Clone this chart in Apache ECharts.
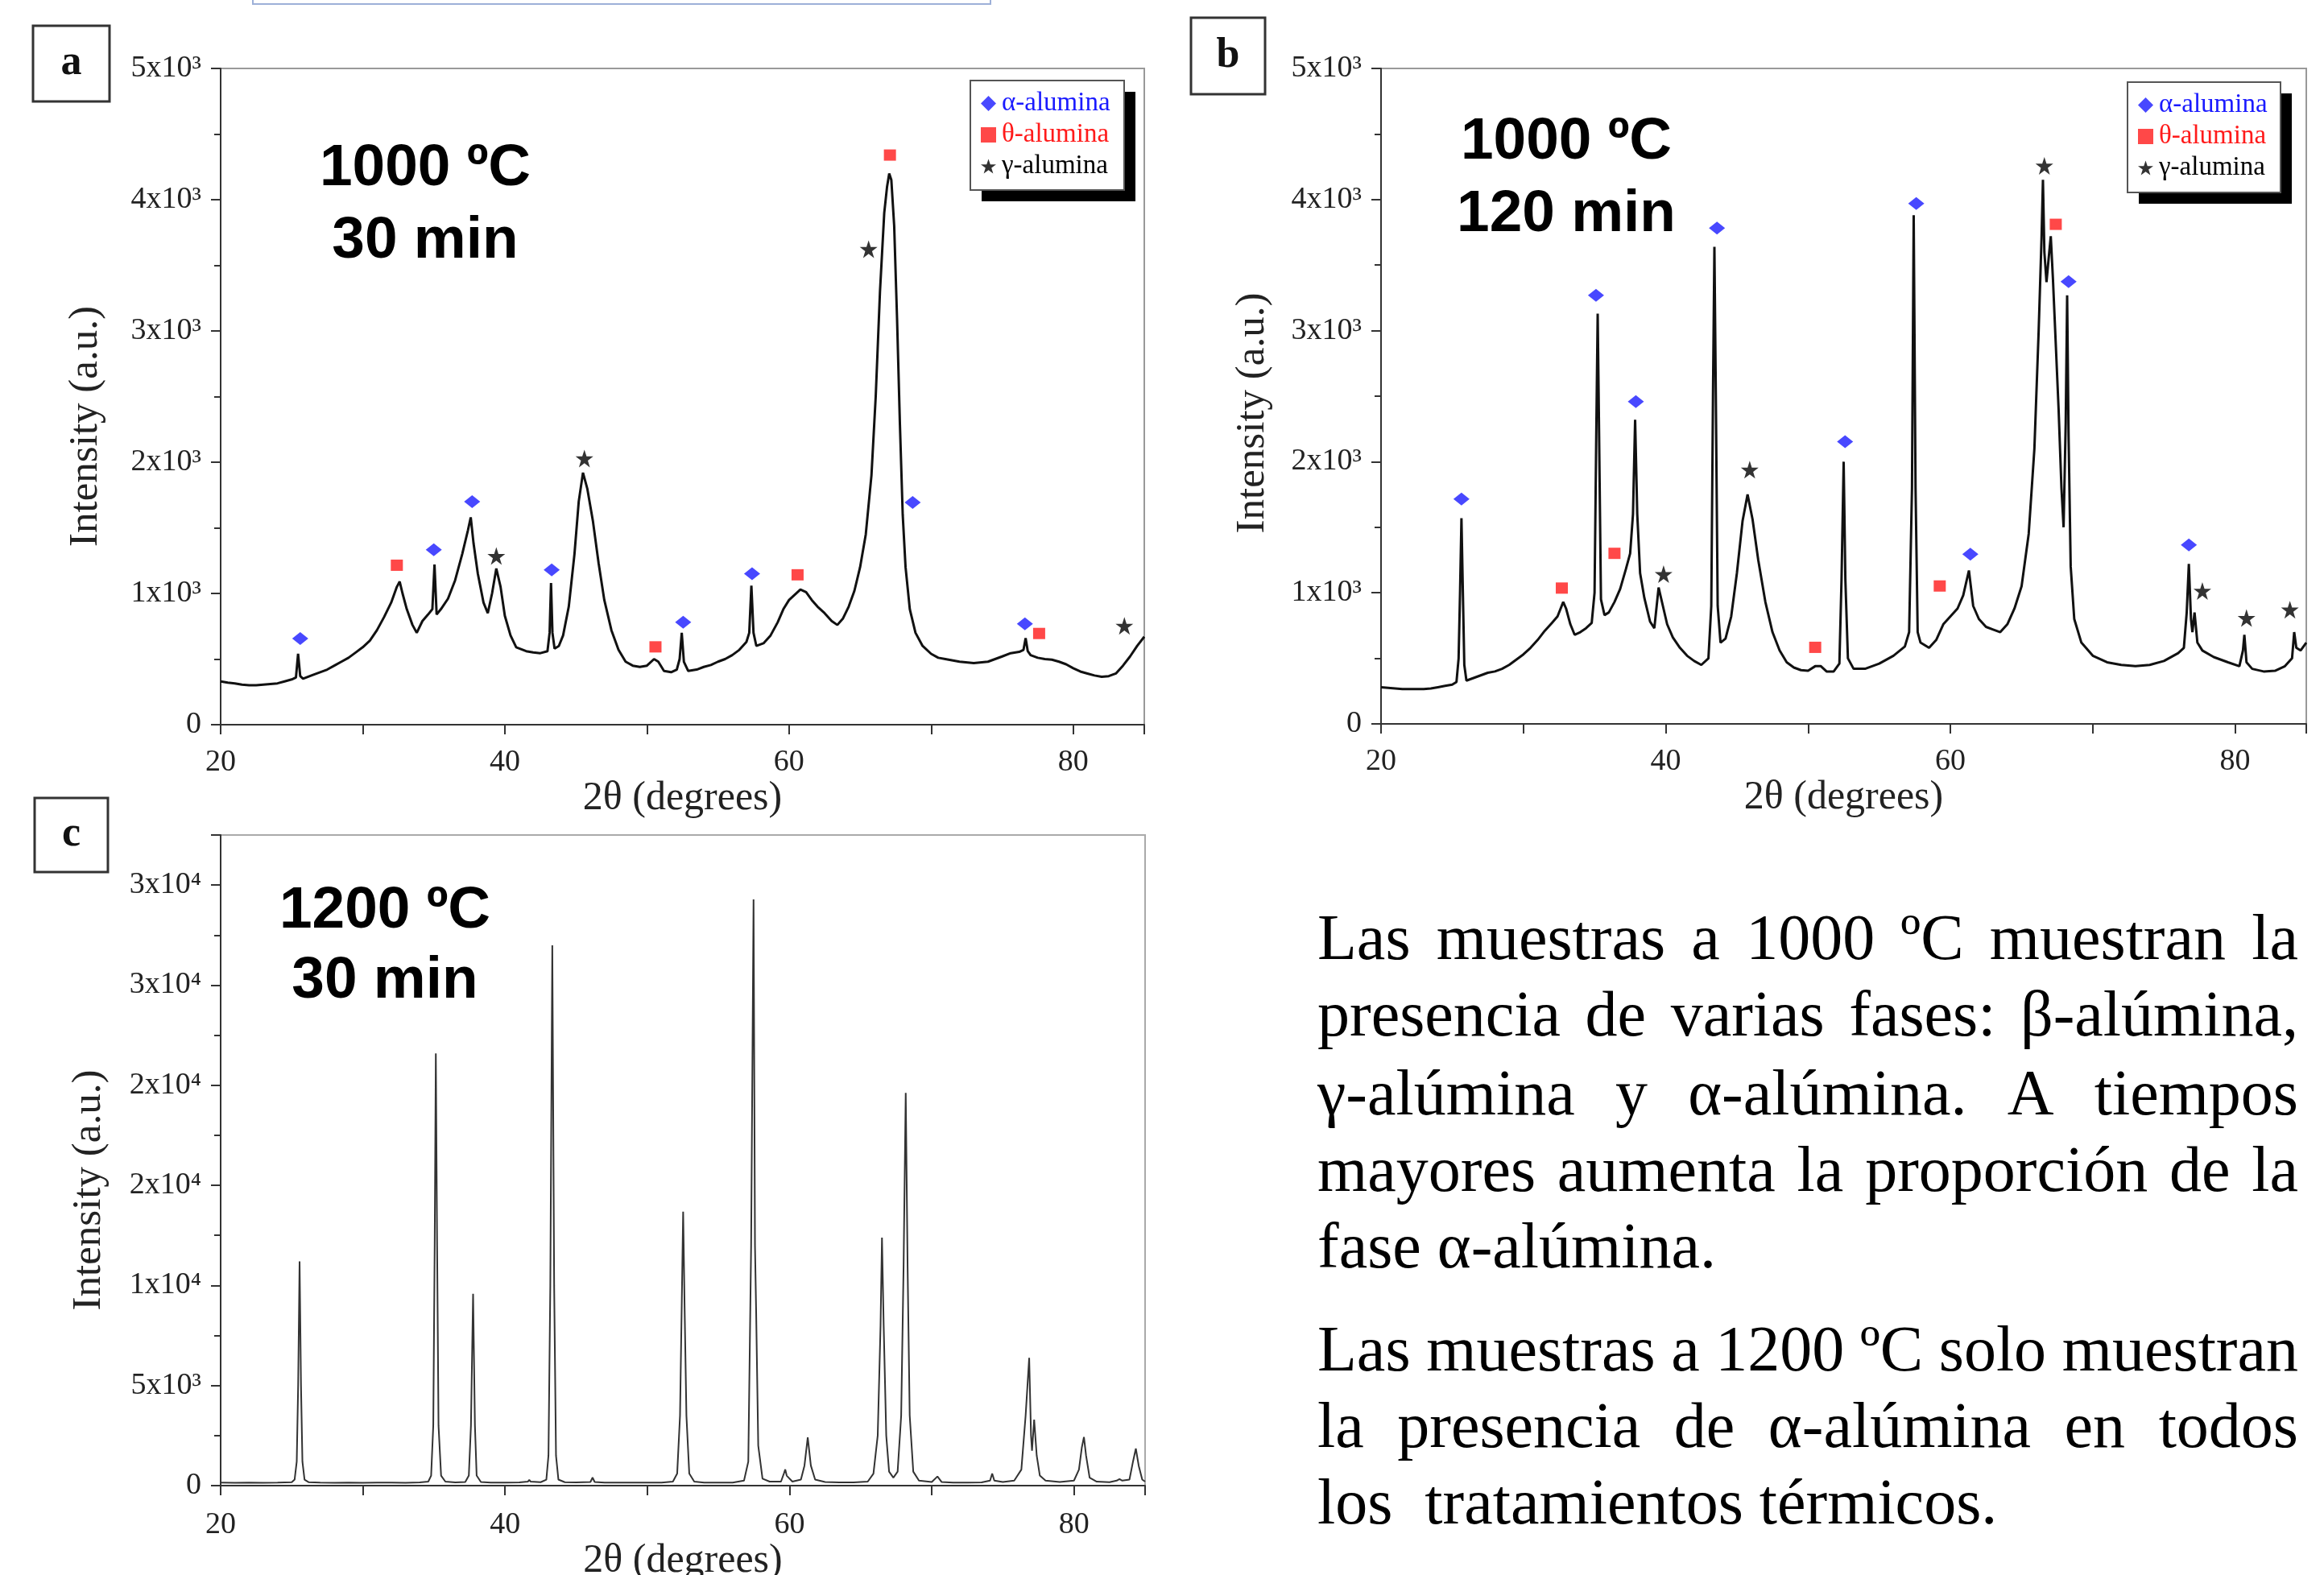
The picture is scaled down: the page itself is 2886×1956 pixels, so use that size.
<!DOCTYPE html>
<html><head><meta charset="utf-8">
<script src="https://cdn.jsdelivr.net/npm/echarts@6/dist/echarts.min.js"></script>
<style>html,body{margin:0;padding:0;background:#fff}#c{width:2886px;height:1956px}</style>
</head><body><div id="c"></div>
<script>
// ---------- tick labels ----------
const xTickLabels = {20: '20', 40: '40', 60: '60', 80: '80'};
const yTickLabels1000 = ['0', '1x10³', '2x10³', '3x10³', '4x10³', '5x10³'];
const yTickLabels1200 = ['0', '5x10³', '1x10⁴', '2x10⁴', '2x10⁴', '3x10⁴', '3x10⁴'];

// ---------- panel a: 1000 ºC, 30 min ----------
const pattern1000_30 = [
[20.0,330],[20.5,320],[21.0,315],[21.5,305],[22.0,300],[22.5,300],[23.0,305],[23.5,310],[24.0,315],[24.5,330],[25.0,345],[25.3,360],[25.45,540],[25.6,370],[25.8,350],[26.5,380],[27.0,400],[27.5,420],[28.0,450],[28.5,480],[29.0,510],[29.5,550],[30.0,590],[30.5,640],[31.0,720],[31.5,820],[32.0,930],[32.4,1050],[32.6,1090],[32.8,1000],[33.1,880],[33.5,760],[33.8,700],[34.2,790],[34.6,840],[34.9,880],[35.05,1220],[35.2,840],[35.5,880],[36.0,960],[36.5,1100],[37.0,1300],[37.4,1480],[37.6,1580],[37.8,1380],[38.1,1150],[38.5,930],[38.8,850],[39.1,1000],[39.4,1190],[39.7,1050],[40.0,830],[40.4,680],[40.8,590],[41.5,560],[42.0,550],[42.5,545],[43.0,560],[43.15,700],[43.25,1080],[43.35,700],[43.5,580],[43.8,600],[44.1,680],[44.5,900],[44.9,1300],[45.2,1700],[45.5,1920],[45.8,1800],[46.2,1550],[46.6,1230],[47.0,950],[47.5,720],[48.0,570],[48.5,480],[49.0,450],[49.5,440],[50.0,450],[50.5,500],[50.8,480],[51.2,410],[51.7,400],[52.1,420],[52.3,500],[52.45,700],[52.6,480],[52.9,410],[53.5,420],[54.0,440],[54.5,455],[55.0,480],[55.5,500],[56.0,530],[56.5,570],[57.0,630],[57.2,700],[57.35,1060],[57.5,700],[57.7,600],[58.2,620],[58.7,680],[59.2,780],[59.6,880],[60.0,950],[60.4,990],[60.8,1030],[61.2,1010],[61.6,950],[62.0,900],[62.5,850],[63.0,790],[63.4,760],[63.8,810],[64.2,900],[64.6,1020],[65.0,1200],[65.4,1450],[65.8,1900],[66.1,2500],[66.4,3300],[66.7,3900],[66.9,4100],[67.05,4200],[67.2,4150],[67.4,3800],[67.6,3100],[67.8,2300],[68.0,1600],[68.2,1200],[68.5,880],[68.9,700],[69.4,600],[70.0,540],[70.5,510],[71.0,500],[72.0,480],[73.0,470],[74.0,480],[75.0,520],[75.6,545],[76.2,555],[76.5,570],[76.65,660],[76.8,560],[77.0,530],[77.5,510],[78.0,500],[78.5,495],[79.0,480],[79.5,460],[80.0,430],[80.5,405],[81.0,390],[81.5,375],[82.0,365],[82.5,370],[83.0,390],[83.5,450],[84.0,520],[84.5,600],[85.0,670]
];
const alpha1000_30 = [[25.6,657],[35.0,1333],[37.7,1700],[43.3,1180],[52.55,781],[57.4,1151],[68.7,1693],[76.6,769]];
const theta1000_30 = [[32.4,1215],[50.6,593],[60.6,1142],[67.1,4340],[77.6,695]];
const gamma1000_30 = [[39.4,1285],[45.6,2028],[65.6,3623],[83.6,753]];

// ---------- panel b: 1000 ºC, 120 min ----------
const pattern1000_120 = [
[20.0,280],[20.5,275],[21.0,270],[21.5,265],[22.0,265],[22.5,265],[23.0,265],[23.5,270],[24.0,280],[24.5,290],[25.0,300],[25.3,320],[25.45,500],[25.55,1000],[25.65,1570],[25.75,1000],[25.85,450],[26.0,330],[26.5,350],[27.0,370],[27.5,390],[28.0,400],[28.5,420],[29.0,450],[29.5,490],[30.0,530],[30.5,580],[31.0,640],[31.5,710],[32.0,770],[32.4,820],[32.8,930],[33.0,880],[33.3,760],[33.6,680],[34.0,700],[34.4,730],[34.8,770],[35.0,1000],[35.12,2200],[35.22,3130],[35.32,2200],[35.45,950],[35.7,830],[36.0,850],[36.4,930],[36.8,1030],[37.2,1180],[37.5,1300],[37.7,1600],[37.85,2320],[38.0,1600],[38.2,1150],[38.5,960],[38.9,780],[39.2,730],[39.5,1040],[39.8,900],[40.1,760],[40.5,660],[41.0,580],[41.5,520],[42.0,480],[42.5,450],[43.0,500],[43.2,900],[43.32,2500],[43.42,3640],[43.52,2500],[43.65,900],[43.85,620],[44.2,650],[44.6,820],[45.0,1150],[45.4,1550],[45.75,1750],[46.1,1560],[46.5,1250],[47.0,930],[47.5,700],[48.0,560],[48.5,470],[49.0,430],[49.5,410],[50.0,405],[50.5,440],[50.9,440],[51.3,400],[51.8,400],[52.2,460],[52.35,1100],[52.5,2000],[52.62,1100],[52.8,500],[53.2,420],[54.0,420],[55.0,460],[56.0,520],[56.8,590],[57.1,700],[57.3,1800],[57.42,3880],[57.55,1800],[57.7,700],[57.9,620],[58.5,580],[59.0,640],[59.5,760],[60.0,820],[60.5,880],[60.9,980],[61.3,1170],[61.6,900],[62.0,800],[62.5,740],[63.0,720],[63.5,700],[64.0,760],[64.5,880],[65.0,1050],[65.5,1450],[65.9,2100],[66.2,3000],[66.4,3700],[66.5,4150],[66.6,3600],[66.75,3370],[66.9,3550],[67.05,3720],[67.2,3400],[67.4,2900],[67.6,2400],[67.8,1800],[67.95,1500],[68.1,2300],[68.2,3270],[68.3,2200],[68.45,1200],[68.7,800],[69.2,620],[70.0,520],[71.0,470],[72.0,450],[73.0,440],[74.0,450],[75.0,480],[76.0,540],[76.4,580],[76.6,850],[76.75,1220],[76.9,800],[77.0,700],[77.15,850],[77.35,620],[77.7,560],[78.5,510],[79.5,470],[80.3,440],[80.55,560],[80.65,680],[80.8,470],[81.2,420],[82.0,400],[82.8,405],[83.5,440],[84.0,500],[84.15,700],[84.3,580],[84.6,560],[85.0,620]
];
const alpha1000_120 = [[25.65,1716],[35.1,3269],[37.9,2459],[43.6,3782],[52.6,2153],[57.6,3970],[61.4,1295],[68.3,3374],[76.75,1365]];
const theta1000_120 = [[32.7,1036],[36.4,1301],[50.5,584],[59.25,1052],[67.4,3811]];
const gamma1000_120 = [[39.85,1142],[45.9,1939],[66.6,4257],[77.7,1014],[80.8,807],[83.85,871]];

// ---------- panel c: 1200 ºC, 30 min ----------
const pattern1200_30 = [
[20,150],[21,140],[22,150],[23,145],[24,150],[25.0,170],[25.2,300],[25.35,1200],[25.45,5000],[25.55,11200],[25.65,5000],[25.75,1200],[25.9,300],[26.2,170],[27,150],[28,140],[29,150],[30,145],[31,150],[32,150],[33,145],[34,160],[34.6,200],[34.8,500],[34.95,3000],[35.05,12000],[35.13,21590],[35.22,12000],[35.32,3000],[35.5,500],[35.8,200],[36.5,160],[37.2,180],[37.45,500],[37.6,3000],[37.75,9580],[37.88,3000],[38.0,500],[38.3,180],[39,150],[40,150],[41,160],[41.6,200],[41.7,290],[41.8,200],[42.5,170],[42.9,300],[43.05,1500],[43.18,10000],[43.32,26990],[43.45,10000],[43.58,1500],[43.75,300],[44.2,170],[45,160],[46.0,180],[46.15,400],[46.3,180],[47,150],[48,150],[49,150],[50,150],[51,150],[51.8,200],[52.1,600],[52.3,3500],[52.42,9000],[52.52,13690],[52.62,9000],[52.75,3500],[52.95,600],[53.3,200],[54,150],[55,150],[56,150],[56.8,250],[57.1,1200],[57.3,12000],[57.47,29280],[57.57,12000],[57.65,8800],[57.8,2000],[58.1,350],[58.6,200],[59.4,200],[59.6,600],[59.7,810],[59.8,500],[60.2,200],[60.8,300],[61.05,1000],[61.28,2410],[61.5,1000],[61.8,300],[62.5,180],[63.5,160],[64.5,160],[65.5,200],[65.9,600],[66.2,2500],[66.4,8000],[66.5,12385],[66.62,8000],[66.8,2500],[67.0,700],[67.3,400],[67.6,700],[67.85,3500],[68.02,11000],[68.17,19620],[68.3,11000],[68.45,3500],[68.7,700],[69.1,250],[70.0,180],[70.4,457],[70.7,180],[71.5,150],[72.5,150],[73.5,160],[74.1,250],[74.25,600],[74.4,250],[75.0,180],[75.8,250],[76.3,800],[76.6,3500],[76.85,6380],[76.98,2500],[77.05,1745],[77.2,3300],[77.38,1500],[77.6,500],[78.0,250],[79,180],[80.0,250],[80.35,800],[80.55,1900],[80.7,2430],[80.85,1500],[81.1,400],[81.6,200],[82.5,170],[83.0,250],[83.2,330],[83.4,250],[83.9,300],[84.15,1200],[84.35,1850],[84.55,1000],[84.8,300],[85.0,200]
];

// ---------- texts ----------
const phaseNames = ['α-alumina', 'θ-alumina', 'γ-alumina'];
const panelTitles = [['1000 ºC', '30 min'], ['1000 ºC', '120 min'], ['1200 ºC', '30 min']];
const panelLetters = ['a', 'b', 'c'];
const paragraph1 = ['Las muestras a 1000 ºC muestran la', 'presencia de varias fases: β-alúmina,', 'γ-alúmina y α-alúmina. A tiempos', 'mayores aumenta la proporción de la', 'fase α-alúmina.'];
const paragraph2 = ['Las muestras a 1200 ºC solo muestran', 'la presencia de α-alúmina en todos', 'los  tratamientos térmicos.'];

// ---------- styling ----------
const SERIF = '"Liberation Serif", "Times New Roman", serif';
const SANS = '"Liberation Sans", Arial, sans-serif';
const STAR = 'path://M50 0 L61.8 35.1 L98.9 35.1 L69 57 L80.3 92.2 L50 70.5 L19.7 92.2 L31 57 L1.1 35.1 L38.2 35.1 Z';
const phaseColors = ['#1a1aff', '#ff1a1a', '#000000'];
const phaseSymbols = ['diamond', 'rect', STAR];
const phaseSizes = [[20, 16], [15, 14], 22];

function xAxisCfg(gi, margin, nameGap) {
  return {
    type: 'value', gridIndex: gi, min: 20, max: 85, interval: 10,
    axisLine: {show: true, onZero: false, lineStyle: {color: '#333', width: 2}},
    axisTick: {show: true, inside: false, length: 12, lineStyle: {color: '#333', width: 2}},
    splitLine: {show: false},
    axisLabel: {formatter: v => xTickLabels[v] || '', fontFamily: SERIF, fontSize: 38, color: '#222', margin: margin},
    name: '2θ (degrees)', nameLocation: 'middle', nameGap: nameGap,
    nameTextStyle: {fontFamily: SERIF, fontSize: 50, color: '#222'}
  };
}
function yAxisCfg(gi, max, interval, labels, nameGap, shift) {
  return {
    type: 'value', gridIndex: gi, min: 0, max: max, interval: interval,
    axisLine: {show: true, onZero: false, lineStyle: {color: '#333', width: 2}},
    axisTick: {show: true, inside: false, length: 12, lineStyle: {color: '#333', width: 2}},
    minorTick: {show: true, splitNumber: 2, length: 8, lineStyle: {color: '#333', width: 2}},
    splitLine: {show: false},
    axisLabel: {formatter: v => { const i = v / interval; return Number.isInteger(i) && labels[i] !== undefined ? labels[i] : ''; },
      fontFamily: SERIF, fontSize: 38, color: '#222', margin: 24},
    name: 'Intensity (a.u.)', nameLocation: 'middle', nameGap: nameGap,
    nameTextStyle: {fontFamily: SERIF, fontSize: 51, color: '#222', padding: [0, 2 * shift, 0, 0]}
  };
}
function phaseSeries(gi, lists) {
  return lists.map((d, k) => ({
    type: 'scatter', name: phaseNames[k], xAxisIndex: gi, yAxisIndex: gi, data: d,
    symbol: phaseSymbols[k], symbolSize: phaseSizes[k], itemStyle: {color: phaseColors[k]}, z: 5, silent: true
  }));
}
function legendCfg(left, top) {
  return {
    orient: 'vertical', left: left, top: top, itemGap: 6, itemWidth: 19, itemHeight: 19, z: 20,
    padding: [12, 12, 11, 13],
    textStyle: {fontFamily: SERIF, fontSize: 33, lineHeight: 33, padding: [0, 0, 0, 2]},
    data: phaseNames.map((n, k) => ({name: n, icon: phaseSymbols[k], textStyle: {color: phaseColors[k]}}))
  };
}

// ---------- graphics (titles, letters, legend boxes, paragraph) ----------
const graphics = [];
graphics.push({type: 'rect', shape: {x: 314, y: -20, width: 916, height: 25}, style: {fill: 'none', stroke: '#9db0d8', lineWidth: 2}});
const legendBoxes = [[1205, 100, 191, 136], [2642, 102, 190, 137]];
legendBoxes.forEach(b => {
  graphics.push({type: 'rect', z: 3, shape: {x: b[0] + 14, y: b[1] + 14, width: b[2], height: b[3]}, style: {fill: '#000'}});
  graphics.push({type: 'rect', z: 4, shape: {x: b[0], y: b[1], width: b[2], height: b[3]}, style: {fill: '#fff', stroke: '#555', lineWidth: 2}});
});
const titlePos = [[528, 210, 300], [1945, 177, 267], [478, 1132, 1219]];
panelTitles.forEach((t, i) => {
  graphics.push({type: 'text', x: titlePos[i][0], y: titlePos[i][1], z: 10,
    style: {text: t[0], font: 'bold 73px ' + SANS, fill: '#000', align: 'center', verticalAlign: 'middle'}});
  graphics.push({type: 'text', x: titlePos[i][0], y: titlePos[i][2], z: 10,
    style: {text: t[1], font: 'bold 73px ' + SANS, fill: '#000', align: 'center', verticalAlign: 'middle'}});
});
const letterBoxes = [[41, 32, 95, 94], [1479, 22, 92, 95], [43, 991, 91, 92]];
panelLetters.forEach((l, i) => {
  const b = letterBoxes[i];
  graphics.push({type: 'rect', shape: {x: b[0], y: b[1], width: b[2], height: b[3]}, style: {fill: '#fff', stroke: '#333', lineWidth: 3}});
  graphics.push({type: 'text', x: b[0] + b[2] / 2, y: b[1] + b[3] / 2, style: {text: l, font: 'bold 52px ' + SERIF, fill: '#111', align: 'center', verticalAlign: 'middle'}});
});
// justified paragraph
const PX_LEFT = 1636, PX_RIGHT = 2854, PFONT = '80px ' + SERIF;
const mctx = document.createElement('canvas').getContext('2d');
mctx.font = PFONT;
function addLine(str, baseline, justify) {
  const y = baseline - 19;
  if (!justify) {
    graphics.push({type: 'text', x: PX_LEFT, y: y, style: {text: str, font: PFONT, fill: '#000', align: 'left', verticalAlign: 'middle'}});
    return;
  }
  const words = str.split(/\s+/);
  const widths = words.map(w => mctx.measureText(w).width);
  const total = widths.reduce((a, b) => a + b, 0);
  const gap = (PX_RIGHT - PX_LEFT - total) / (words.length - 1);
  let x = PX_LEFT;
  words.forEach((w, k) => {
    graphics.push({type: 'text', x: x, y: y, style: {text: w, font: PFONT, fill: '#000', align: 'left', verticalAlign: 'middle'}});
    x += widths[k] + gap;
  });
}
const p1Base = [1189, 1284, 1382, 1477, 1572];
const p2Base = [1700, 1795, 1890];
paragraph1.forEach((s, i) => addLine(s, p1Base[i], i < paragraph1.length - 1));
paragraph2.forEach((s, i) => addLine(s, p2Base[i], i < paragraph2.length - 1));

// ---------- chart ----------
const chart = echarts.init(document.getElementById('c'), null, {renderer: 'canvas'});
chart.setOption({
  animation: false,
  backgroundColor: '#fff',
  grid: [
    {left: 274, top: 85, width: 1147, height: 815, show: true, borderColor: '#999', borderWidth: 2, backgroundColor: 'transparent', outerBoundsMode: 'none', containLabel: false},
    {left: 1715, top: 85, width: 1149, height: 814, show: true, borderColor: '#999', borderWidth: 2, backgroundColor: 'transparent', outerBoundsMode: 'none', containLabel: false},
    {left: 274, top: 1037, width: 1148, height: 808, show: true, borderColor: '#aaa', borderWidth: 2, backgroundColor: 'transparent', outerBoundsMode: 'none', containLabel: false}
  ],
  xAxis: [xAxisCfg(0, 28, 66), xAxisCfg(1, 28, 66), xAxisCfg(2, 30, 67)],
  yAxis: [
    yAxisCfg(0, 5000, 1000, yTickLabels1000, 142, 37),
    yAxisCfg(1, 5000, 1000, yTickLabels1000, 134, 21),
    yAxisCfg(2, 32500, 5000, yTickLabels1200, 138, 37)
  ],
  legend: [legendCfg(1205, 100), legendCfg(2642, 102)],
  series: [
    {type: 'line', name: '1000 ºC 30 min', xAxisIndex: 0, yAxisIndex: 0, data: pattern1000_30, showSymbol: false, lineStyle: {color: '#111', width: 3}, z: 2, silent: true},
    ...phaseSeries(0, [alpha1000_30, theta1000_30, gamma1000_30]),
    {type: 'line', name: '1000 ºC 120 min', xAxisIndex: 1, yAxisIndex: 1, data: pattern1000_120, showSymbol: false, lineStyle: {color: '#111', width: 3}, z: 2, silent: true},
    ...phaseSeries(1, [alpha1000_120, theta1000_120, gamma1000_120]),
    {type: 'line', name: '1200 ºC 30 min', xAxisIndex: 2, yAxisIndex: 2, data: pattern1200_30, showSymbol: false, lineStyle: {color: '#333', width: 2}, z: 2, silent: true}
  ],
  graphic: graphics
});
</script>
</body></html>
